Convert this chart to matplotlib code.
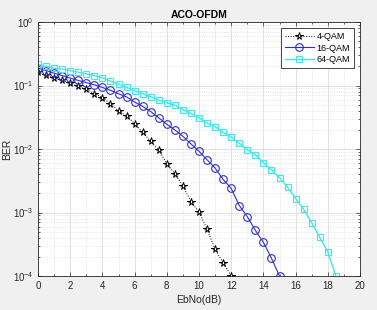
import numpy as np
import matplotlib
matplotlib.use("Agg")
import matplotlib.pyplot as plt
from matplotlib.ticker import LogLocator, NullFormatter, MultipleLocator

ebno_4 = [0, 0.5, 1, 1.5, 2, 2.5, 3, 3.5, 4, 4.5, 5, 5.5, 6, 6.5, 7, 7.5, 8, 8.5, 9, 9.5, 10, 10.5, 11, 11.5, 12]
ber_4_log = [-0.79, -0.84, -0.88, -0.92, -0.965, -1.015, -1.06, -1.13, -1.19, -1.29, -1.40, -1.48, -1.60, -1.74, -1.88,
             -2.02, -2.23, -2.39, -2.58, -2.83, -2.99, -3.26, -3.58, -3.79, -4.0]

ebno_16 = [0, 0.5, 1, 1.5, 2, 2.5, 3, 3.5, 4, 4.5, 5, 5.5, 6, 6.5, 7, 7.5, 8, 8.5, 9, 9.5, 10, 10.5, 11, 11.5, 12,
           12.5, 13, 13.5, 14, 14.5, 15]
ber_16_log = [-0.727, -0.764, -0.806, -0.843, -0.884, -0.92, -0.955, -0.99, -1.03, -1.075, -1.13, -1.18, -1.26, -1.33,
              -1.41, -1.51, -1.61, -1.70, -1.80, -1.92, -2.035, -2.17, -2.30, -2.48, -2.62, -2.89, -3.065, -3.28,
              -3.47, -3.72, -4.0]

ebno_64 = [0, 0.5, 1, 1.5, 2, 2.5, 3, 3.5, 4, 4.5, 5, 5.5, 6, 6.5, 7, 7.5, 8, 8.5, 9, 9.5, 10, 10.5, 11, 11.5, 12,
           12.5, 13, 13.5, 14, 14.5, 15, 15.5, 16, 16.5, 17, 17.5, 18, 18.5]
ber_64_log = [-0.665, -0.70, -0.727, -0.74, -0.765, -0.79, -0.816, -0.845, -0.88, -0.93, -0.98, -1.03, -1.08, -1.13,
              -1.175, -1.23, -1.27, -1.31, -1.38, -1.44, -1.51, -1.59, -1.65, -1.74, -1.81, -1.91, -2.01, -2.09,
              -2.215, -2.33, -2.45, -2.60, -2.78, -2.95, -3.16, -3.39, -3.62, -4.0]

labels = ["4-QAM", "16-QAM", "64-QAM"]

ber_4 = 10 ** np.array(ber_4_log)
ber_16 = 10 ** np.array(ber_16_log)
ber_64 = 10 ** np.array(ber_64_log)

plt.rcParams['font.family'] = ['Liberation Sans', 'DejaVu Sans']

fig = plt.figure(figsize=(3.77, 3.10), dpi=100, facecolor='#f0f0f0')
ax = fig.add_axes([38/377, 1 - 276/310, (360-38)/377, (276-22)/310])
ax.set_facecolor('white')

ax.semilogy(ebno_4, ber_4, ':', color='black', marker='*', markersize=5.5, markerfacecolor='white',
            markeredgewidth=0.7, linewidth=0.7, label=labels[0])
ax.semilogy(ebno_16, ber_16, '-', color='#2e2ecc', marker='o', markersize=5.5, markerfacecolor='none',
            markeredgewidth=0.8, linewidth=0.8, label=labels[1])
ax.semilogy(ebno_64, ber_64, '-', color='#3ee8e8', marker='s', markersize=4.5, markerfacecolor='none',
            markeredgewidth=0.8, linewidth=1.0, label=labels[2])

ax.set_xlim(0, 20)
ax.set_ylim(1e-4, 1)
ax.xaxis.set_major_locator(MultipleLocator(2))
ax.xaxis.set_minor_locator(MultipleLocator(1))
ax.yaxis.set_major_locator(LogLocator(base=10, numticks=10))
ax.yaxis.set_minor_locator(LogLocator(base=10, subs=np.arange(2, 10), numticks=20))
ax.yaxis.set_minor_formatter(NullFormatter())

ax.grid(True, which='major', color='#dcdcdc', linestyle='-', linewidth=0.6)
ax.grid(True, which='minor', color='#dcdcdc', linestyle=':', linewidth=0.6)
ax.set_axisbelow(True)

ax.tick_params(which='both', direction='in', top=True, right=True, labelsize=7, colors='#262626',
               labelcolor='#262626', width=0.5)
ax.tick_params(which='major', length=3)
ax.tick_params(which='minor', length=1.5)
for s in ax.spines.values():
    s.set_color('#262626')
    s.set_linewidth(0.6)

ax.set_title("ACO-OFDM", fontsize=7.5, fontweight='bold', pad=3, color='#000000')
ax.set_xlabel("EbNo(dB)", fontsize=7.5, labelpad=3, color='#262626')
ax.set_ylabel("BER", fontsize=7.5, labelpad=0, color='#262626')

leg = ax.legend(loc='upper right', fontsize=6.5, frameon=True, fancybox=False, edgecolor='#262626',
                framealpha=1, handlelength=3.2, borderpad=0.4, labelspacing=0.3, handletextpad=0.3,
                borderaxespad=0.7)
leg.get_frame().set_linewidth(0.6)

fig.savefig("out.png", dpi=100, facecolor=fig.get_facecolor())
